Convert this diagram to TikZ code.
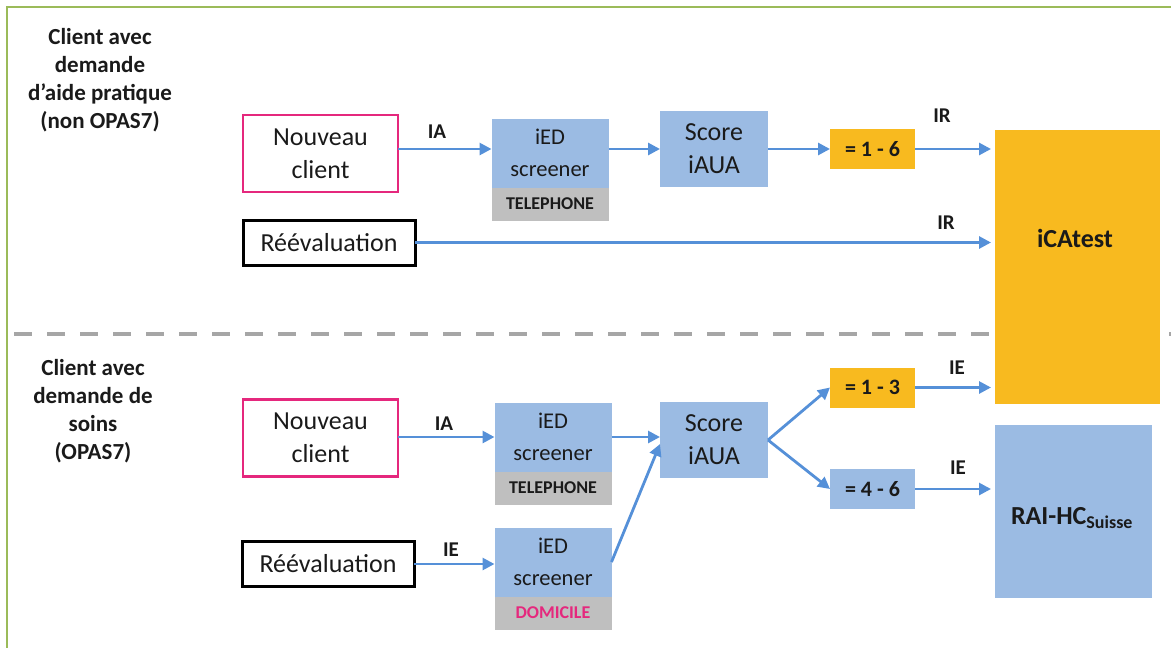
\documentclass[tikz,border=0pt]{standalone}
\usepackage{fontspec}
\setmainfont{Carlito}
\usetikzlibrary{arrows.meta}
\definecolor{boxblue}{HTML}{9BBBE3}
\definecolor{arrblue}{HTML}{5590D8}
\definecolor{orng}{HTML}{F8BA1F}
\definecolor{barg}{HTML}{BFBFBF}
\definecolor{pinkc}{HTML}{E5287D}
\definecolor{frameg}{HTML}{9BBB59}
\definecolor{dashg}{HTML}{A6A6A6}
\definecolor{txt}{HTML}{1A1A1A}
\begin{document}
\begin{tikzpicture}[x=1pt,y=-1pt,
  every node/.style={inner sep=0pt, outer sep=0pt, text=txt},
  boxtxt/.style={font=\fontsize{26}{33}\selectfont, align=center},
  client/.style={boxtxt, draw=pinkc, line width=2.5pt, minimum width=155, minimum height=77},
  reeval/.style={boxtxt, draw=black, line width=3pt, minimum width=172, minimum height=45},
  iedbox/.style={boxtxt, fill=boxblue, minimum width=117, minimum height=69, font=\fontsize{22.5}{32}\selectfont},
  barbox/.style={fill=barg, minimum width=117, minimum height=33, font=\bfseries\fontsize{18}{20}\selectfont},
  scorebox/.style={boxtxt, fill=boxblue, minimum width=108, minimum height=76},
  rangebox/.style={minimum width=85, minimum height=40, font=\bfseries\fontsize{22}{24}\selectfont},
  bigbox/.style={font=\bfseries\fontsize{26}{28}\selectfont},
  title/.style={font=\bfseries\fontsize{23}{28}\selectfont, align=center},
  lbl/.style={font=\bfseries\fontsize{21}{22}\selectfont},
  arr/.style={draw=arrblue, line width=2.8pt, -{Triangle[length=12pt,width=12pt]}}
]
\useasboundingbox (0,0) rectangle (1171,648);
% frame
\draw[frameg, line width=1.2pt] (7,648) -- (7,7) -- (1171,7);
% separator
\draw[dashg, line width=4pt, dash pattern=on 18pt off 15pt] (14,334) -- (1171,334);

% titles
\node[title] (t1) at (100,80) {Client avec\\demande\\d’aide pratique\\(non OPAS7)};
\node[title] (t2) at (93,411) {Client avec\\demande de\\soins\\(OPAS7)};

% top row
\node[client] (nc1) at (320.5,153.5) {Nouveau\\client};
\node[iedbox] (ied1) at (550,153) {iED\\screener};
\node[barbox, anchor=north] (tel1) at (ied1.south) {TELEPHONE};
\node[scorebox] (sc1) at (714,149) {Score\\iAUA};
\node[rangebox, fill=orng] (r16) at (872.5,149) {= 1 - 6};
\node[fill=orng, minimum width=165, minimum height=274, bigbox] (ica) at (1077.5,267) {};
\node[bigbox] (icat) at (1075,238) {iCAtest};
\node[reeval] (re1) at (329,242.5) {Réévaluation};

\draw[arr] (nc1.east |- r16) -- (ied1.west |- r16);
\draw[arr] (ied1.east |- r16) -- (sc1.west);
\draw[arr] (sc1.east) -- (r16.west);
\draw[arr, shorten >=4pt] (r16.east) -- (ica.west |- r16);
\draw[arr, shorten >=4pt] (re1.east) -- (ica.west |- re1.east);

\node[lbl] (ia1) at (437,132) {IA};
\node[lbl] (ir1) at (942,116) {IR};
\node[lbl] (ir2) at (946,223) {IR};

% bottom row
\node[client] (nc2) at (320.5,438) {Nouveau\\client};
\node[iedbox] (ied2) at (553,437) {iED\\screener};
\node[barbox, anchor=north] (tel2) at (ied2.south) {TELEPHONE};
\node[scorebox] (sc2) at (714,440) {Score\\iAUA};
\node[reeval] (re2) at (328,564) {Réévaluation};
\node[iedbox] (ied3) at (553,562) {iED\\screener};
\node[barbox, anchor=north, text=pinkc] (dom) at (ied3.south) {DOMICILE};
\node[rangebox, fill=orng] (r13) at (872.5,387.5) {= 1 - 3};
\node[rangebox, fill=boxblue] (r46) at (872.5,489) {= 4 - 6};
\node[fill=boxblue, minimum width=157, minimum height=173] (rai) at (1073.5,511.5) {};
\node[bigbox] (rait) at (1072,518) {RAI-HC\textsubscript{\fontsize{18}{20}\selectfont Suisse}};

\draw[arr] (nc2.east |- ied2.east) -- (ied2.west);
\draw[arr] (ied2.east) -- (sc2.west |- ied2.east);
\draw[arr] (re2.east) -- (ied3.west |- re2.east);
\draw[arr] (ied3.east) -- ([yshift=-4pt]sc2.west);
\draw[arr] (sc2.east) -- (r13.west);
\draw[arr] (sc2.east) -- (r46.west);
\draw[arr, shorten >=4pt] (r13.east) -- (ica.west |- r13.east);
\draw[arr, shorten >=4pt] (r46.east) -- (rai.west |- r46.east);

\node[lbl] (ia2) at (444,424) {IA};
\node[lbl] (ie1) at (451,550) {IE};
\node[lbl] (ie2) at (957,368) {IE};
\node[lbl] (ie3) at (958,468) {IE};
\end{tikzpicture}
\end{document}
